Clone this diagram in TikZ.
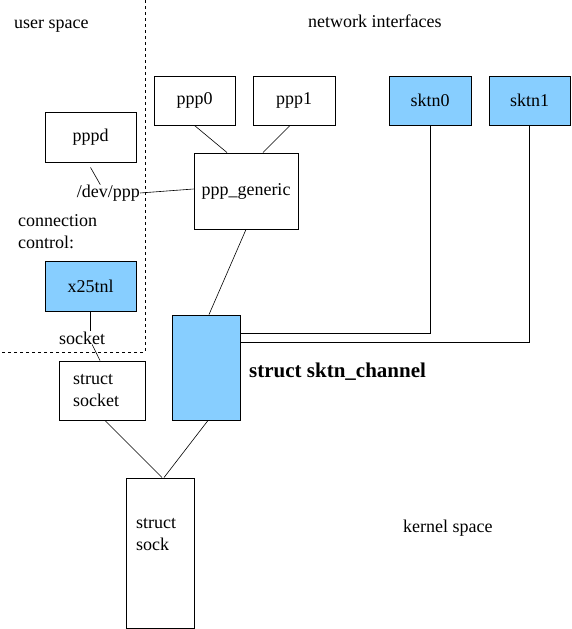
\documentclass[tikz,border=0pt]{standalone}
\usepackage{fontspec}
\setmainfont{Liberation Serif}
\definecolor{sktnblue}{HTML}{87CEFF}

\begin{document}
\begin{tikzpicture}[x=1pt, y=-1pt,
    box/.style={rectangle, draw, line width=0.9pt, inner sep=0pt, font=\fontsize{18}{22}\selectfont},
    bluebox/.style={box, fill=sktnblue},
    txt/.style={inner sep=0pt, align=left, font=\fontsize{18}{22}\selectfont},
    link/.style={line width=0.6pt},
    border/.style={dash pattern=on 3pt off 3pt, line width=0.7pt}
]
\useasboundingbox (0,0) rectangle (571,629);

% Space borders
\draw[border] (145,0) -- (145,352) -- (0,352);
\node[txt, anchor=west] (user) at (14,26) {user space};
\node[txt, anchor=west] (netif) at (308,21) {network interfaces};
\node[txt, anchor=west] (kern) at (403,528) {kernel space};

% Network interfaces
\node[box, minimum width=81pt, minimum height=49pt] (ppp0) at (194.5,100.5) {ppp0};
\node[box, minimum width=82pt, minimum height=49pt] (ppp1) at (294,100.5) {ppp1};
\node[bluebox, minimum width=82pt, minimum height=49pt] (sktn0) at (430,100.5) {sktn0};
\node[bluebox, minimum width=81pt, minimum height=49pt] (sktn1) at (529.5,100.5) {sktn1};
\node[box, minimum width=104pt, minimum height=76pt] (gen) at (246,191) {ppp\_generic};

% Connection control
\node[box, minimum width=91pt, minimum height=50pt] (pppd) at (90.5,137) {pppd};
\node[txt, anchor=east] (devppp) at (140,193) {/dev/ppp};
\node[txt, anchor=north west] (conn) at (18,214) {connection\\control:};
\node[bluebox, minimum width=91pt, minimum height=50pt] (x25tnl) at (90.5,286) {x25tnl};
\node[txt, anchor=west] (socklbl) at (59,338) {socket};

% Kernel structures
\node[bluebox, minimum width=68pt, minimum height=105pt] (chan) at (206,367.5) {};
\node[txt, anchor=west, font=\fontsize{21}{24}\selectfont\bfseries] (chanlbl) at (249,372) {struct sktn\_channel};
\node[box, minimum width=86pt, minimum height=59pt] (ssock) at (102,390.5) {};
\node[txt, anchor=west] (ssocktxt) at (73,390.5) {struct\\socket};
\node[box, minimum width=68pt, minimum height=150pt] (sock) at (160,553) {};
\node[txt, anchor=west] (socktxt) at (136,535) {struct\\sock};

% Connections
\draw[link] ([yshift=-5pt]pppd.south) -- ([xshift=-8pt]devppp.north);
\draw[link] (devppp.east) -- ([yshift=2pt]gen.west);
\draw[link] (ppp0.south) -- ([xshift=-19pt]gen.north);
\draw[link] ([xshift=-4pt]ppp1.south) -- ([xshift=17pt]gen.north);
\draw[link] (gen.south) -- ([xshift=3pt]chan.north);
\draw[link] (sktn0.south) |- ([yshift=-19pt]chan.north east);
\draw[link] (sktn1.south) |- ([yshift=-28pt]chan.north east);
\draw[link] (x25tnl.south) -- (x25tnl.south |- socklbl.north);
\draw[link] ([xshift=10pt]socklbl.south) -- ([xshift=-2pt]ssock.north);
\draw[link] ([xshift=3pt]ssock.south) -- ([xshift=2pt]sock.north);
\draw[link] ([xshift=2pt]chan.south) -- ([xshift=4pt]sock.north);
\end{tikzpicture}
\end{document}
